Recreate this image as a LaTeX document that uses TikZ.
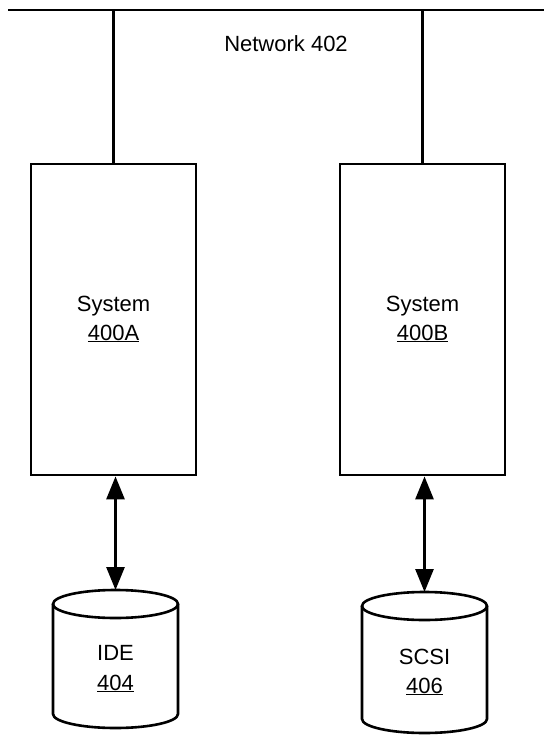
\documentclass[tikz,border=0pt]{standalone}
\usepackage{fontspec}
\setmainfont{Liberation Sans}
\usetikzlibrary{arrows.meta}

\begin{document}
\begin{tikzpicture}[x=1pt,y=-1pt,
  wire/.style={line width=2.6pt},
  sysbox/.style={draw,line width=2.8pt,minimum width=165pt,minimum height=311pt,inner sep=0pt},
  label/.style={font=\fontsize{22}{26}\selectfont,align=center,inner sep=0pt},
  duplex/.style={line width=2.8pt,{Triangle[length=23pt,width=18pt]}-{Triangle[length=23pt,width=18pt]}},
  drum/.style={line width=2.6pt,fill=white}
]
\useasboundingbox (0,0) rectangle (544,735);

% network bus
\coordinate (busL) at (8,10);
\coordinate (busR) at (544,10);
\draw[wire] (busL) -- (busR);
\node[label,anchor=base] (net) at (286,52) {Network 402};

% systems
\node[sysbox] (sysA) at (113.5,319.5) {};
\node[sysbox] (sysB) at (422.5,319.5) {};
\node[label,anchor=base] (sysAt) at (sysA.center |- 0,311) {System};
\node[label,anchor=base] (sysAn) at (sysA.center |- 0,340) {\underline{400A}};
\node[label,anchor=base] (sysBt) at (sysB.center |- 0,311) {System};
\node[label,anchor=base] (sysBn) at (sysB.center |- 0,340) {\underline{400B}};

% drops from the bus
\coordinate (tapA) at (sysA.north |- busL);
\coordinate (tapB) at (sysB.north |- busL);
\draw[wire] (tapA) -- (sysA.north);
\draw[wire] (tapB) -- (sysB.north);

% disk drums (y grows downward here, so the lower rim runs through 90 degrees)
\draw[drum] (53,604) -- (53,714) arc[start angle=180,end angle=0,x radius=62.5,y radius=14] -- (178,604);
\draw[drum] (115.5,604) ellipse[x radius=62.5,y radius=14];
\coordinate (diskA) at (115.5,590);
\node[label,anchor=base] (ide) at (115.5,660) {IDE};
\node[label,anchor=base] (ideN) at (115.5,690) {\underline{404}};

\draw[drum] (362,606) -- (362,719) arc[start angle=180,end angle=0,x radius=62.5,y radius=14] -- (487,606);
\draw[drum] (424.5,606) ellipse[x radius=62.5,y radius=14];
\coordinate (diskB) at (424.5,592);
\node[label,anchor=base] (scsi) at (424.5,664) {SCSI};
\node[label,anchor=base] (scsiN) at (424.5,693) {\underline{406}};

% links between systems and disks
\draw[duplex] (sysA.south -| diskA) -- (diskA);
\draw[duplex] (sysB.south -| diskB) -- (diskB);
\end{tikzpicture}
\end{document}
